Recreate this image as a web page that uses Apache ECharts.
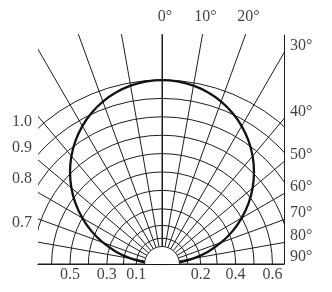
<!DOCTYPE html>
<html><head><meta charset="utf-8">
<script src="https://cdn.jsdelivr.net/npm/echarts@6/dist/echarts.min.js"></script>
<style>html,body{margin:0;padding:0;background:#fff}#c{width:332px;height:292px}</style>
</head><body><div id="c"></div>
<script>
// Radial grid directions, degrees from the vertical (clockwise positive)
const spokeAngles = [-90,-80,-70,-60,-50,-40,-30,-20,-10,0,10,20,30,40,50,60,70,80,90];
// Concentric rings: label and radial position (1.0 ring = 1)
const ringLabels = ['0.1','0.2','0.3','0.4','0.5','0.6','0.7','0.8','0.9','1.0'];
const ringRadii  = [0.14, 0.21, 0.30, 0.40, 0.50, 0.60, 0.70, 0.80, 0.90, 1.00];
const holeRadius = 0.095;
// Angle tick labels
const angleTicks = [0,10,20,30,40,50,60,70,80,90];
const angleTickLabels = ['0°','10°','20°','30°','40°','50°','60°','70°','80°','90°'];
// Relative intensity curve
const curveAngles = [-90,-85,-80,-75,-70,-65,-60,-55,-50,-45,-40,-35,-30,-25,-20,-15,-10,-5,0,5,10,15,20,25,30,35,40,45,50,55,60,65,70,75,80,85,90];
const curveIntensity = [0.00,0.087,0.174,0.259,0.342,0.423,0.500,0.574,0.643,0.707,0.766,0.819,0.866,0.906,0.940,0.966,0.985,0.996,1.00,0.996,0.985,0.966,0.940,0.906,0.866,0.819,0.766,0.707,0.643,0.574,0.500,0.423,0.342,0.259,0.174,0.087,0.00];

const X_MIN = -0.674, X_MAX = 0.663, Y_MAX = 1.245;
const LINE = '#1e1e1e';
const FONT = "'Liberation Serif','DejaVu Serif',serif";
const rad = d => d * Math.PI / 180;

function clipOf(params) {
  const cs = params.coordSys;
  return {type: 'rect', shape: {x: cs.x, y: cs.y - 1, width: cs.width, height: cs.height + 1}};
}

const curveData = curveAngles.map((a, i) => [curveIntensity[i] * Math.sin(rad(a)), curveIntensity[i] * Math.cos(rad(a))]);

const labelData = [];
angleTicks.forEach((a, i) => {
  if (a <= 20) {
    labelData.push({value: [Y_MAX * Math.tan(rad(a)), Y_MAX], name: angleTickLabels[i],
      label: {position: 'top', distance: 10, offset: [3, 0]}});
  } else {
    labelData.push({value: [X_MAX, a === 90 ? 0 : X_MAX / Math.tan(rad(a))], name: angleTickLabels[i],
      label: {position: 'right', distance: 6, offset: [0, -7]}});
  }
});
ringLabels.forEach((t, i) => {
  const r = ringRadii[i];
  if (i < 6) {
    const side = i % 2 === 0 ? -1 : 1;
    labelData.push({value: [side * r, 0], name: t, label: {position: 'bottom', distance: 3}});
  } else {
    const y = Math.sqrt(Math.max(r * r - X_MIN * X_MIN, 0));
    labelData.push({value: [X_MIN, y], name: t, label: {position: 'left', distance: 6, offset: [0, -6]}});
  }
});

const chart = echarts.init(document.getElementById('c'), null, {renderer: 'canvas'});
chart.setOption({
  animation: false,
  backgroundColor: '#fff',
  grid: {left: 38, right: 48, top: 35, bottom: 28},
  xAxis: {type: 'value', min: X_MIN, max: X_MAX,
    axisLine: {show: true, onZero: false, lineStyle: {color: LINE, width: 1}},
    axisTick: {show: false}, axisLabel: {show: false}, splitLine: {show: false}},
  yAxis: [
    {type: 'value', min: 0, max: Y_MAX, position: 'left',
      axisLine: {show: true, lineStyle: {color: LINE, width: 1}},
      axisTick: {show: false}, axisLabel: {show: false}, splitLine: {show: false}},
    {type: 'value', min: 0, max: Y_MAX, position: 'right',
      axisLine: {show: true, lineStyle: {color: LINE, width: 1}},
      axisTick: {show: false}, axisLabel: {show: false}, splitLine: {show: false}}
  ],
  series: [
    {type: 'custom', silent: true, z: 1,
      data: ringRadii.map(r => [r, 0]),
      renderItem: (params, api) => {
        const c = api.coord([0, 0]);
        const e = api.coord([api.value(0), 0]);
        return {type: 'circle', shape: {cx: c[0], cy: c[1], r: e[0] - c[0]},
          style: {stroke: LINE, fill: null, lineWidth: 1}, clipPath: clipOf(params)};
      }},
    {type: 'custom', silent: true, z: 1,
      data: spokeAngles.map(a => [a, 0]),
      renderItem: (params, api) => {
        const t = rad(api.value(0));
        const p0 = api.coord([holeRadius * Math.sin(t), holeRadius * Math.cos(t)]);
        const p1 = api.coord([3 * Math.sin(t), 3 * Math.cos(t)]);
        return {type: 'line', shape: {x1: p0[0], y1: p0[1], x2: p1[0], y2: p1[1]},
          style: {stroke: LINE, lineWidth: 1}, clipPath: clipOf(params)};
      }},
    {type: 'line', z: 3, data: curveData, symbol: 'none', silent: true, smooth: 0.5,
      lineStyle: {color: '#111', width: 2.3}},
    {type: 'custom', silent: true, z: 4,
      data: [[holeRadius, 0]],
      renderItem: (params, api) => {
        const c = api.coord([0, 0]);
        const e = api.coord([api.value(0), 0]);
        return {type: 'circle', shape: {cx: c[0], cy: c[1], r: e[0] - c[0]},
          style: {stroke: LINE, fill: '#fff', lineWidth: 1}, clipPath: clipOf(params)};
      }},
    {type: 'scatter', z: 5, clip: false, silent: true, symbolSize: 0, data: labelData,
      label: {show: true, formatter: p => p.name, color: '#111', fontFamily: FONT, fontSize: 16}}
  ]
});
</script></body></html>
